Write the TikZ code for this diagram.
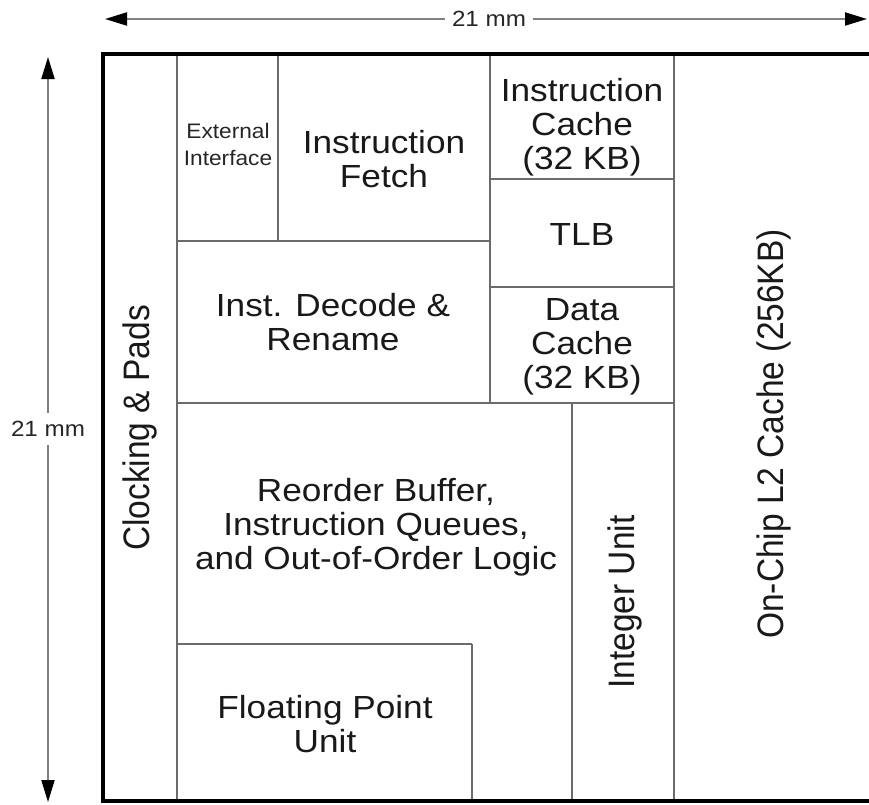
\documentclass[tikz,border=0pt]{standalone}
\usepackage{graphicx}
\usepackage{fontspec}
\setmainfont{Liberation Sans}
\usetikzlibrary{arrows.meta}
\begin{document}
\begin{tikzpicture}[x=1pt,y=-1pt,
  wall/.style={line width=2pt, draw=black!58},
  frame/.style={line width=4.5pt, draw=black},
  big/.style={font=\fontsize{32}{34}\selectfont, align=center, xscale=1.1, inner sep=0pt, text=black!90},
  vert/.style={font=\fontsize{33.5}{36}\selectfont, rotate=90, inner sep=0pt, text=black!90},
  small/.style={font=\fontsize{21}{27}\selectfont, align=center, xscale=1.08, inner sep=0pt, text=black!85},
  dimlbl/.style={font=\fontsize{22}{24}\selectfont, xscale=1.1, inner xsep=6.5pt, inner ysep=8.5pt, text=black!85},
  dimarr/.style={line width=2pt, draw=black!50, -{Triangle[length=22pt,width=13pt,color=black]}},
]
\useasboundingbox (0,0) rectangle (869,804);

% internal walls
\draw[wall] (177,54) -- (177,801);
\draw[wall] (278,54) -- (278,241);
\draw[wall] (177,241) -- (490,241);
\draw[wall] (490,54) -- (490,403);
\draw[wall] (490,179) -- (674,179);
\draw[wall] (490,287) -- (674,287);
\draw[wall] (177,403) -- (674,403);
\draw[wall] (674,54) -- (674,801);
\draw[wall] (572,403) -- (572,801);
\draw[wall] (177,644) -- (472,644);
\draw[wall] (472,644) -- (472,801);

% outer frame (right side cut off)
\draw[frame] (869,54) -- (103,54) -- (103,801) -- (869,801);

% labels
\node[vert] (clk) at (140,428) {\scalebox{1}[1.1]{Clocking \& Pads}};
\node[small] (ext) at (228,144) {External\\Interface};
\node[big] (ifetch) at (384,159) {Instruction\\Fetch};
\node[big] (icache) at (582,127) {Instruction\\Cache\\(32 KB)};
\node[big] (tlb) at (582,234) {TLB};
\node[big] (dcache) at (582,347) {Data\\Cache\\(32 KB)};
\node[big] (decode) at (333,322) {Inst. Decode \&\\Rename};
\node[big] (rob) at (376,527) {Reorder Buffer,\\Instruction Queues,\\and Out-of-Order Logic};
\node[big] (fpu) at (325,724) {Floating Point\\Unit};
\node[vert] (iu) at (625,602) {\scalebox{1}[1.1]{Integer Unit}};
\node[vert] (l2) at (774,434) {\scalebox{1}[1.1]{On-Chip L2 Cache (256KB)}};

% dimension arrows
\coordinate (hl) at (105,19);
\coordinate (hr) at (867,19);
\node[dimlbl] (hlbl) at (489,19) {21 mm};
\draw[dimarr] (hlbl) -- (hl);
\draw[dimarr] (hlbl) -- (hr);

\coordinate (vt) at (48,57);
\coordinate (vb) at (48,802);
\node[dimlbl] (vlbl) at (48,429) {21 mm};
\draw[dimarr] (vlbl) -- (vt);
\draw[dimarr] (vlbl) -- (vb);
\end{tikzpicture}
\end{document}
